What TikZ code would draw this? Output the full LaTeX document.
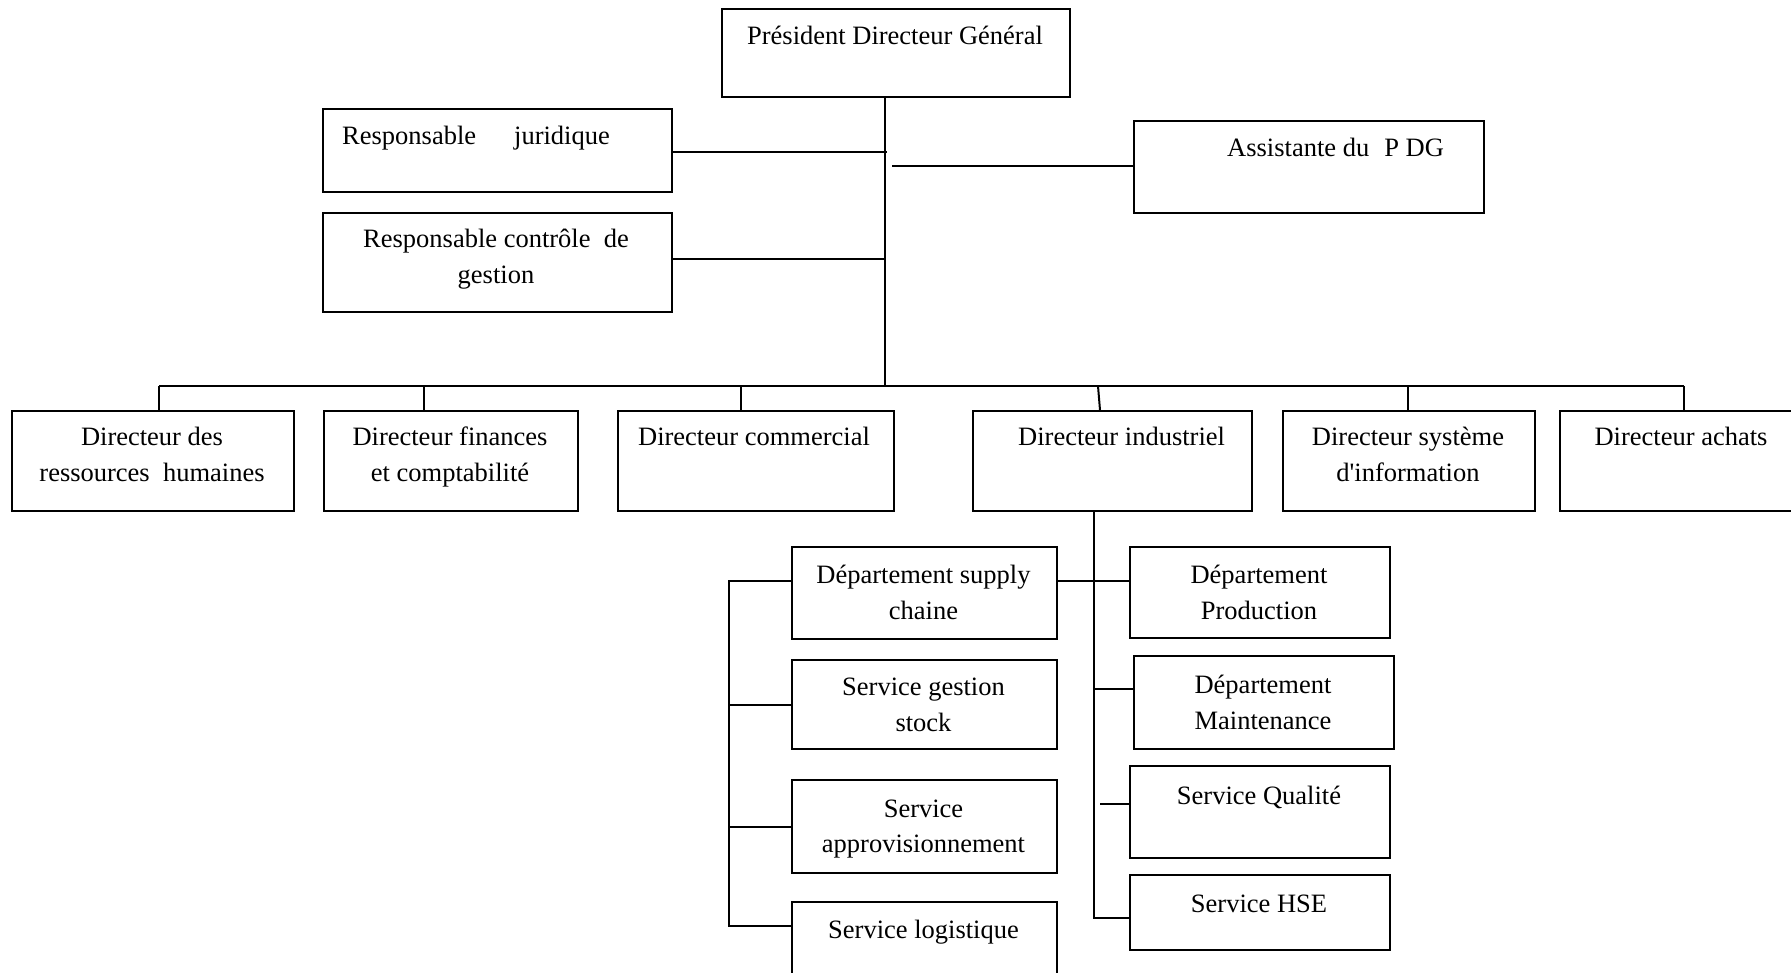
\documentclass[tikz,border=0pt]{standalone}
\usepackage{fontspec}
\setmainfont{Liberation Serif}
\begin{document}
\begin{tikzpicture}[x=1pt,y=-1pt,
  box/.style={draw,line width=2pt,inner sep=0pt,anchor=north west},
  txt/.style={inner sep=0pt,anchor=base,yshift=-2pt,font=\fontsize{26.5}{35}\selectfont},
  txtl/.style={txt,anchor=base west},
  link/.style={line width=2pt}]
\useasboundingbox (0,0) rectangle (1791,973);
% boxes
\node[box,minimum width=348pt,minimum height=88pt] (pdg) at (721,8) {};
\node[box,minimum width=349pt,minimum height=83pt] (jur) at (322,108) {};
\node[box,minimum width=349pt,minimum height=99pt] (ctl) at (322,212) {};
\node[box,minimum width=350pt,minimum height=92pt] (ass) at (1133,120) {};
\node[box,minimum width=282pt,minimum height=100pt] (drh) at (11,410) {};
\node[box,minimum width=254pt,minimum height=100pt] (dfc) at (323,410) {};
\node[box,minimum width=276pt,minimum height=100pt] (dc) at (617,410) {};
\node[box,minimum width=279pt,minimum height=100pt] (di) at (972,410) {};
\node[box,minimum width=252pt,minimum height=100pt] (dsi) at (1282,410) {};
\node[box,minimum width=244pt,minimum height=100pt] (da) at (1559,410) {};
\node[box,minimum width=265pt,minimum height=92pt] (dsc) at (791,546) {};
\node[box,minimum width=265pt,minimum height=89pt] (gst) at (791,659) {};
\node[box,minimum width=265pt,minimum height=93pt] (app) at (791,779) {};
\node[box,minimum width=265pt,minimum height=90pt] (log) at (791,901) {};
\node[box,minimum width=260pt,minimum height=91pt] (prod) at (1129,546) {};
\node[box,minimum width=260pt,minimum height=93pt] (mnt) at (1133,655) {};
\node[box,minimum width=260pt,minimum height=92pt] (qual) at (1129,765) {};
\node[box,minimum width=260pt,minimum height=75pt] (hse) at (1129,874) {};
% texts
\node[txt] (pdg-t) at (895,43) {Président Directeur Général};
\node[txtl] (jur-t) at (342,143) {Responsable\hspace*{38pt}juridique};
\node[txt] (ctl-t1) at (496,246) {Responsable contrôle\hspace*{13.2pt}de};
\node[txt] (ctl-t2) at (496,282) {gestion};
\node[txtl] (ass-t) at (1227,155) {Assistante du\hspace*{15pt}P DG};
\node[txt] (drh-t1) at (152,444) {Directeur des};
\node[txt] (drh-t2) at (152,479) {ressources\hspace*{13.2pt}humaines};
\node[txt] (dfc-t1) at (450,444) {Directeur finances};
\node[txt] (dfc-t2) at (450,479) {et comptabilité};
\node[txt] (dc-t) at (754,444) {Directeur commercial};
\node[txtl] (di-t) at (1018,444) {Directeur industriel};
\node[txt] (dsi-t1) at (1408,444) {Directeur système};
\node[txt] (dsi-t2) at (1408,479) {d\textquotesingle information};
\node[txt] (da-t) at (1681,444) {Directeur achats};
\node[txt] (dsc-t1) at (923.5,581) {Département supply};
\node[txt] (dsc-t2) at (923.5,617) {chaine};
\node[txt] (gst-t1) at (923.5,693) {Service gestion};
\node[txt] (gst-t2) at (923.5,729) {stock};
\node[txt] (app-t1) at (923.5,815) {Service};
\node[txt] (app-t2) at (923.5,850) {approvisionnement};
\node[txt] (log-t) at (923.5,936) {Service logistique};
\node[txt] (prod-t1) at (1259,581) {Département};
\node[txt] (prod-t2) at (1259,617) {Production};
\node[txt] (mnt-t1) at (1263,691) {Département};
\node[txt] (mnt-t2) at (1263,727) {Maintenance};
\node[txt] (qual-t) at (1259,802) {Service Qualité};
\node[txt] (hse-t) at (1259,910) {Service HSE};
% coordinates
\coordinate (t) at (885,386);
\coordinate (jp) at (887,152);
\coordinate (cp) at (885,259);
\coordinate (assend) at (892,166);
\coordinate (b1) at (159,386);
\coordinate (b2) at (424,386);
\coordinate (b3) at (741,386);
\coordinate (b4) at (1098,386);
\coordinate (b5) at (1408,386);
\coordinate (b6) at (1684,386);
\coordinate (dib) at (1094,918);
\coordinate (sp) at (1094,581);
\coordinate (mp) at (1094,689);
\coordinate (qp) at (1100,804);
\coordinate (lt) at (729,581);
\coordinate (lb) at (729,926);
% connectors
\draw[link] (pdg.south -| t) -- (t);
\draw[link] (jp -| jur.east) -- (jp);
\draw[link] (cp -| ctl.east) -- (cp);
\draw[link] (assend) -- (assend -| ass.west);
\draw[link] (b1) -- (b6);
\draw[link] (b1) -- (b1 |- drh.north);
\draw[link] (b2) -- (b2 |- dfc.north);
\draw[link] (b3) -- (b3 |- dc.north);
\draw[link] (b4) -- ([xshift=2pt]b4 |- di.north);
\draw[link] (b5) -- (b5 |- dsi.north);
\draw[link] (b6) -- (b6 |- da.north);
\draw[link] (di.south -| dib) -- (dib) -- (dib -| hse.west);
\draw[link] (sp -| dsc.east) -- (sp -| prod.west);
\draw[link] (mp) -- (mp -| mnt.west);
\draw[link] (qp) -- (qp -| qual.west);
\draw[link] (lt -| dsc.west) -- (lt) -- (lb) -- (lb -| log.west);
\draw[link] (gst.west) -- (gst.west -| lt);
\draw[link] (app.west) -- (app.west -| lt);
\end{tikzpicture}
\end{document}
